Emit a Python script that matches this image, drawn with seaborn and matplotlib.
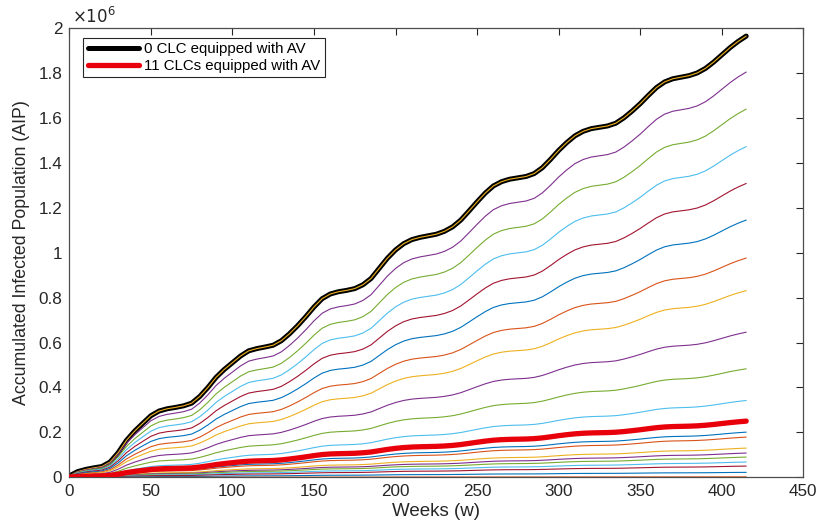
import numpy as np
import pandas as pd
import matplotlib
matplotlib.use("Agg")
import matplotlib.pyplot as plt
from matplotlib.lines import Line2D
from matplotlib.ticker import FuncFormatter
import seaborn as sns

# ---- data ----
weeks = list(range(0, 420, 5))
# Accumulated infected population (millions) for 0 CLC equipped with AV
profile_0clc = [0.006, 0.025, 0.035, 0.042, 0.048, 0.068, 0.11, 0.164, 0.205, 0.24,
                0.274, 0.295, 0.305, 0.311, 0.318, 0.33, 0.36, 0.40, 0.445, 0.48,
                0.51, 0.54, 0.563, 0.573, 0.58, 0.588, 0.608, 0.639, 0.675, 0.715,
                0.758, 0.795, 0.816, 0.826, 0.832, 0.84, 0.857, 0.885, 0.93, 0.975,
                1.012, 1.04, 1.058, 1.068, 1.075, 1.082, 1.095, 1.115, 1.145, 1.185,
                1.226, 1.265, 1.297, 1.316, 1.327, 1.333, 1.339, 1.352, 1.378, 1.415,
                1.455, 1.49, 1.52, 1.54, 1.552, 1.558, 1.564, 1.576, 1.60, 1.63,
                1.663, 1.70, 1.735, 1.76, 1.774, 1.781, 1.788, 1.80, 1.82, 1.848,
                1.88, 1.912, 1.94, 1.964]
# final AIP (millions) at week 415 for 0..20 CLCs equipped with AV
final_aip = [1.964, 1.804, 1.639, 1.472, 1.308, 1.145, 0.976, 0.831, 0.646, 0.483,
             0.342, 0.250, 0.201, 0.179, 0.130, 0.108, 0.090, 0.068, 0.050, 0.022, 0.002]
n_clc = list(range(21))
legend_labels = ["0 CLC equipped with AV", "11 CLCs equipped with AV"]
x_ticks = list(range(0, 451, 50))
y_ticks = [0, 0.2, 0.4, 0.6, 0.8, 1.0, 1.2, 1.4, 1.6, 1.8, 2.0]

# ---- build long-form table ----
prof = np.array(profile_0clc)
rows = []
for n, f in zip(n_clc, final_aip):
    vals = prof * (f / prof[-1]) * 1e6
    for w, v in zip(weeks, vals):
        rows.append((w, v, n))
df = pd.DataFrame(rows, columns=["week", "aip", "clc"])

matlab = ["#0072BD", "#D95319", "#EDB120", "#7E2F8E", "#77AC30", "#4DBEEE", "#A2142F"]
palette = {n: matlab[(n + 2) % 7] for n in n_clc}

sns.set_theme(style="white")
plt.rcParams["font.family"] = ["Liberation Sans", "DejaVu Sans"]
txt = "#262626"

fig = plt.figure(figsize=(8.22, 5.26), dpi=100)
ax = fig.add_axes([69.3 / 822, (526 - 477.3) / 526, (803.3 - 69.3) / 822, (477.3 - 28.0) / 526])

# thick black under line for 0 CLC
sns.lineplot(data=df[df.clc == 0], x="week", y="aip", color="black", lw=3.6,
             ax=ax, legend=False, estimator=None, zorder=1.5)
sns.lineplot(data=df, x="week", y="aip", hue="clc", palette=palette, lw=0.8,
             ax=ax, legend=False, estimator=None, zorder=2)
sns.lineplot(data=df[df.clc == 11], x="week", y="aip", color="#E8000B", lw=3.8,
             ax=ax, legend=False, estimator=None, zorder=3)

ax.set_xlim(0, 450)
ax.set_ylim(0, 2e6)
ax.set_xticks(x_ticks)
ax.set_yticks([v * 1e6 for v in y_ticks])
ax.yaxis.set_major_formatter(FuncFormatter(lambda v, p: f"{v / 1e6:g}"))
ax.tick_params(direction="in", length=5, width=0.8, colors=txt, labelsize=12.3,
               top=True, right=True, labeltop=False, labelright=False, pad=5)
for s in ax.spines.values():
    s.set_color("#4d4d4d")
    s.set_linewidth(0.9)
ax.set_xlabel("Weeks (w)", fontsize=13.5, color=txt, labelpad=3)
ax.set_ylabel("Accumulated Infected Population (AIP)", fontsize=12.8, color=txt, labelpad=6)
ax.text(0.004, 1.004, r"$\times10^{6}$", transform=ax.transAxes, fontsize=12,
        color=txt, ha="left", va="bottom")

handles = [Line2D([0], [0], color="black", lw=3.6),
           Line2D([0], [0], color="#E8000B", lw=3.8)]
leg = ax.legend(handles, legend_labels, loc="upper left",
                bbox_to_anchor=((83 - 69.3) / 734, (477.3 - 38) / 449.3),
                borderaxespad=0, fontsize=10.8, handlelength=3.4, handletextpad=0.35,
                labelspacing=0.15, borderpad=0.3, fancybox=False, framealpha=1)
leg.get_frame().set_edgecolor("#262626")
leg.get_frame().set_linewidth(0.8)
for t in leg.get_texts():
    t.set_color("black")

fig.savefig("out.png", dpi=100, facecolor="white")
